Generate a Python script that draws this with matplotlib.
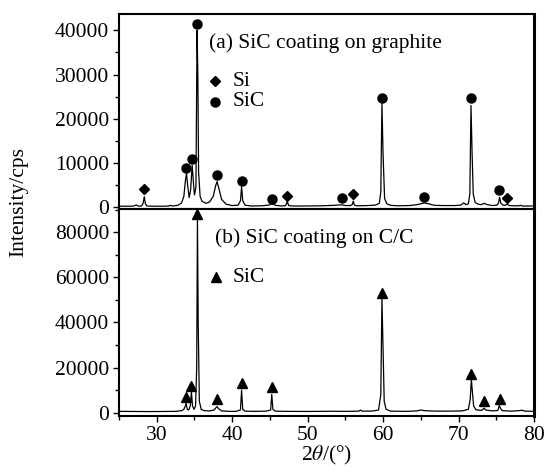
import matplotlib
matplotlib.use("Agg")
import matplotlib.pyplot as plt
from matplotlib.ticker import MultipleLocator
import numpy as np

plt.rcParams["font.family"] = ["Liberation Serif", "DejaVu Serif"]
plt.rcParams["mathtext.fontset"] = "stix"

# (a) SiC coating on graphite -- trace
two_theta_a = [25.0, 26.5, 27.0, 27.3, 27.6, 28.0, 28.2, 28.35, 28.5, 28.7,
               29.5, 31.0, 31.6, 31.8, 32.0, 32.8, 33.3, 33.6, 33.8, 33.95,
               34.1, 34.3, 34.5, 34.7, 34.85, 35.0, 35.2, 35.35, 35.45, 35.55,
               35.75, 36.0, 36.5, 37.0, 37.5, 37.8, 38.0, 38.2, 38.6, 39.2,
               40.0, 40.8, 41.1, 41.25, 41.4, 41.7, 42.5, 44.0, 44.8, 45.3,
               45.8, 46.5, 47.1, 47.3, 47.5, 48.0, 50.0, 52.0, 53.5, 54.2,
               54.6, 55.0, 55.7, 55.9, 56.05, 56.2, 56.5, 58.0, 59.0, 59.5,
               59.7, 59.85, 60.0, 60.2, 60.5, 61.0, 62.0, 63.5, 64.5, 65.0,
               65.5, 66.0, 66.8, 68.0, 69.5, 70.3, 70.7, 71.0, 71.3, 71.5,
               71.65, 71.8, 71.95, 72.2, 72.6, 73.0, 73.4, 73.8, 74.5, 75.1,
               75.3, 75.45, 75.6, 75.9, 76.2, 76.45, 76.7, 77.2, 78.0, 78.2,
               78.5, 80.0]
counts_a = [250, 250, 300, 550, 250, 300, 900, 2400, 800, 300,
            250, 250, 300, 450, 300, 450, 1000, 2500, 6000, 7700,
            5000, 2200, 4000, 9500, 6000, 2800, 4500, 40000, 30000, 8000,
            2500, 1400, 900, 1200, 2500, 4800, 5800, 4500, 1800, 700,
            400, 500, 1500, 4650, 1500, 500, 300, 350, 500, 750,
            450, 300, 400, 1300, 400, 300, 300, 350, 450, 550,
            550, 400, 400, 600, 1400, 500, 350, 400, 500, 900,
            3500, 23500, 12000, 2000, 800, 450, 350, 400, 600, 800,
            1000, 800, 450, 400, 400, 500, 1000, 600, 800, 3000,
            23000, 12000, 3000, 1100, 700, 600, 900, 600, 400, 500,
            1000, 2250, 900, 500, 450, 750, 400, 350, 350, 450,
            300, 300]

si_x_a = [28.3, 47.3, 56.0, 76.45]
si_y_a = [4100, 2550, 2950, 2050]
sic_x_a = [33.9, 34.7, 35.4, 37.95, 41.25, 45.3, 54.5, 59.85, 65.45, 71.65, 75.4]
sic_y_a = [8800, 10850, 41350, 7300, 6000, 1900, 2050, 24800, 2400, 24800, 3900]

# (b) SiC coating on C/C
two_theta_b = [25.0, 27.0, 29.0, 31.0, 32.5, 33.3, 33.6, 33.8, 33.9, 34.05,
               34.25, 34.45, 34.6, 34.75, 34.95, 35.15, 35.3, 35.4, 35.5, 35.65,
               35.9, 36.3, 37.0, 37.6, 37.85, 38.0, 38.2, 38.6, 39.5, 40.5,
               41.1, 41.25, 41.4, 41.7, 43.0, 44.5, 45.1, 45.25, 45.4, 45.7,
               47.0, 50.0, 53.0, 55.0, 56.8, 57.0, 57.2, 58.5, 59.4, 59.7,
               59.85, 60.0, 60.15, 60.4, 61.0, 63.0, 64.5, 65.0, 65.5, 67.0,
               69.0, 70.5, 71.3, 71.55, 71.7, 71.85, 72.0, 72.3, 73.0, 73.25,
               73.4, 73.6, 74.5, 75.2, 75.4, 75.55, 75.8, 77.0, 78.0, 78.4,
               78.8, 80.0]
counts_b = [600, 550, 500, 550, 600, 900, 1500, 3000, 4200, 1500,
            1200, 3000, 9300, 3000, 1500, 3000, 20000, 85500, 40000, 5000,
            1500, 900, 800, 1200, 2200, 2700, 1800, 800, 600, 600,
            1200, 10000, 1500, 700, 600, 700, 1200, 8100, 1500, 700,
            600, 550, 650, 600, 700, 1200, 700, 700, 1200, 8000,
            50500, 28000, 5000, 1500, 700, 600, 800, 1200, 900, 700,
            700, 800, 1500, 6000, 14900, 8700, 3000, 1300, 1000, 1500,
            2000, 1200, 800, 1000, 3200, 2000, 900, 700, 900, 1100,
            700, 600]

sic_x_b = [33.9, 34.6, 35.4, 38.0, 41.3, 45.3, 59.85, 71.7, 73.4, 75.5]
sic_y_b = [6800, 11800, 88000, 5900, 13000, 11250, 53200, 17150, 5200, 5900]

fs = 15.5

fig = plt.figure(figsize=(5.45, 4.73), dpi=100)
ax1 = fig.add_axes([0.2183, 0.5581, 0.7615, 0.4123])
ax2 = fig.add_axes([0.2183, 0.1205, 0.7615, 0.4376])

ax1.plot(two_theta_a, counts_a, color="black", lw=0.9)
ax1.plot(si_x_a, si_y_a, "D", color="black", ms=4.8)
ax1.plot(sic_x_a, sic_y_a, "o", color="black", ms=6.5, clip_on=False)

ax2.plot(two_theta_b, counts_b, color="black", lw=0.9)
ax2.plot(sic_x_b, sic_y_b, "^", color="black", ms=7, clip_on=False)

ax1.set_ylim(-384, 43690)
ax2.set_ylim(-1460, 90240)
for ax in (ax1, ax2):
    ax.set_xlim(25, 80)
    ax.xaxis.set_major_locator(MultipleLocator(10))
    ax.xaxis.set_minor_locator(MultipleLocator(5))
    ax.tick_params(which="both", direction="out", width=1, labelsize=fs, pad=3)
    ax.tick_params(which="major", length=4)
    ax.tick_params(which="minor", length=3)
    for s in ax.spines.values():
        s.set_linewidth(1.5)
    ax.spines["right"].set_linewidth(2.2)

ax1.yaxis.set_major_locator(MultipleLocator(10000))
ax1.yaxis.set_minor_locator(MultipleLocator(5000))
ax1.tick_params(labelbottom=False)
ax2.yaxis.set_major_locator(MultipleLocator(20000))
ax2.yaxis.set_minor_locator(MultipleLocator(10000))

# legends / labels in panels
ax1.text(0.217, 0.851, "(a) SiC coating on graphite", transform=ax1.transAxes,
         fontsize=fs, va="center", ha="left")
ax1.plot([0.231], [0.656], "D", color="black", ms=4.8, transform=ax1.transAxes)
ax1.text(0.275, 0.656, "Si", transform=ax1.transAxes, fontsize=fs, va="center")
ax1.plot([0.231], [0.549], "o", color="black", ms=6.5, transform=ax1.transAxes)
ax1.text(0.275, 0.549, "SiC", transform=ax1.transAxes, fontsize=fs, va="center")

ax2.text(0.231, 0.860, "(b) SiC coating on C/C", transform=ax2.transAxes,
         fontsize=fs, va="center", ha="left")
ax2.plot([0.234], [0.671], "^", color="black", ms=7, transform=ax2.transAxes)
ax2.text(0.275, 0.671, "SiC", transform=ax2.transAxes, fontsize=fs, va="center")

fig.text(0.035, 0.573, "Intensity/cps", rotation=90, fontsize=fs, ha="center", va="center")
fig.text(0.6, 0.038, r"2$\theta$/(°)", fontsize=fs, ha="center", va="center")

fig.savefig("out.png", dpi=100)
